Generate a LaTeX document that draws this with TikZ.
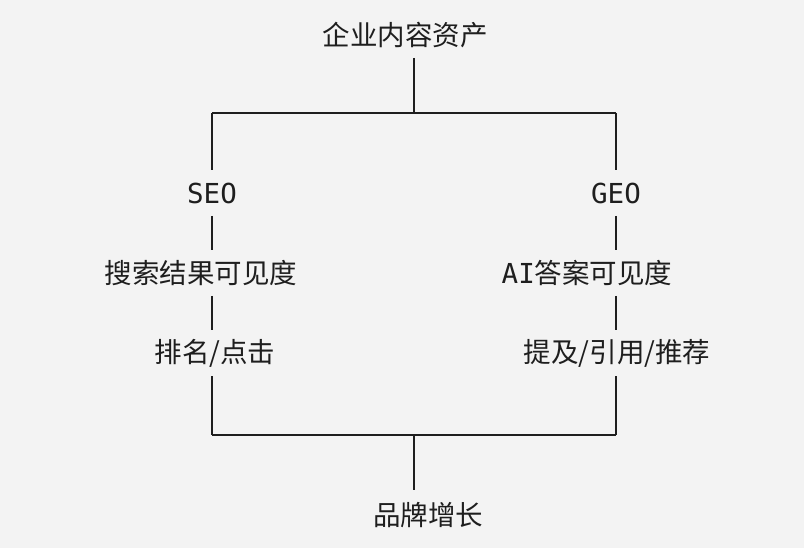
\documentclass[tikz,border=0pt]{standalone}
\usepackage{fontspec}
\setmainfont{Noto Sans CJK SC}
\newfontfamily\monofont{DejaVu Sans Mono}
\usetikzlibrary{positioning}
\definecolor{bgc}{HTML}{F3F3F3}
\definecolor{ink}{HTML}{1E1E1E}
\tikzset{
  lbl/.style = {font = \fontsize{27.5}{30}\selectfont, text = ink, inner sep = 1pt},
  wire/.style = {draw = ink, line width = 1.6pt},
}
\begin{document}
\begin{tikzpicture}[x = 1pt, y = -1pt]
\fill[bgc] (0,0) rectangle (804,548);
\useasboundingbox (0,0) rectangle (804,548);
\node[lbl] (asset) at (405,35) {企业内容资产};
\node[lbl, font = \monofont\fontsize{27.5}{30}\selectfont] (seo) at (212,193) {SEO};
\node[lbl, font = \monofont\fontsize{27.5}{30}\selectfont] (geo) at (616,193) {GEO};
\node[lbl] (svis) at (201,273) {搜索结果可见度};
\node[lbl] (gvis) at (587,273) {{\monofont AI}答案可见度};
\node[lbl] (rank) at (215,353) {排名/点击};
\node[lbl] (cite) at (617,353) {提及/引用/推荐};
\node[lbl] (growth) at (428,515) {品牌增长};
\coordinate (top) at (414,113);
\coordinate (tl) at (212,113);
\coordinate (tr) at (616,113);
\coordinate (bot) at (414,435);
\coordinate (bl) at (212,435);
\coordinate (br) at (616,435);
\draw[wire] (414,58) -- (top);
\draw[wire] (tl) -- (tr);
\draw[wire] (tl) -- (212,170);
\draw[wire] (tr) -- (616,170);
\draw[wire] (212,216) -- (212,250);
\draw[wire] (616,216) -- (616,250);
\draw[wire] (212,296) -- (212,330);
\draw[wire] (616,296) -- (616,330);
\draw[wire] (212,376) -- (bl);
\draw[wire] (616,376) -- (br);
\draw[wire] (bl) -- (br);
\draw[wire] (bot) -- (414,490);
\end{tikzpicture}
\end{document}
